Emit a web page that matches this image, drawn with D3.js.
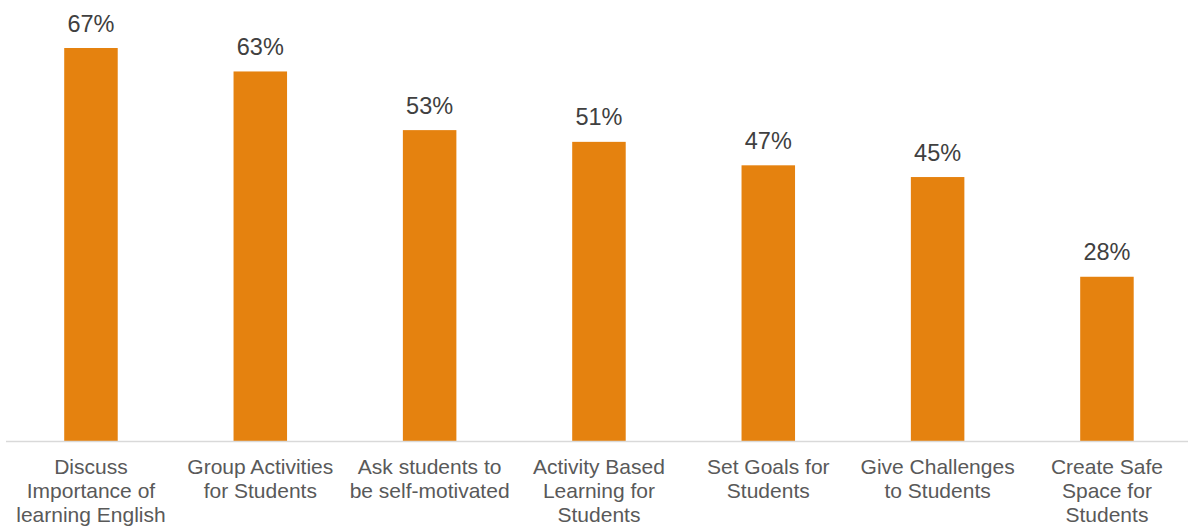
<!DOCTYPE html>
<html>
<head>
<meta charset="utf-8">
<script src="https://cdn.jsdelivr.net/npm/d3@7"></script>
<style>
  html, body { margin: 0; padding: 0; background: #fff; }
  svg { display: block; }
</style>
</head>
<body>
<svg id="chart" width="1188" height="526"></svg>
<script>
// Strategy labels, each split into the lines shown under the axis
const categories = [
  ["Discuss", "Importance of", "learning English"],
  ["Group Activities", "for Students"],
  ["Ask students to", "be self-motivated"],
  ["Activity Based", "Learning for", "Students"],
  ["Set Goals for", "Students"],
  ["Give Challenges", "to Students"],
  ["Create Safe", "Space for", "Students"]
];
// Share of respondents (%)
const values = [67, 63, 53, 51, 47, 45, 28];

const svg = d3.select("#chart");
const width = 1188;
const baseY = 441;
const font = "Arial, 'Liberation Sans', sans-serif";

const x = d3.scaleBand()
  .domain(d3.range(categories.length))
  .range([6.3, 6.3 + 169.33 * categories.length])
  .paddingInner(0.684)
  .paddingOuter(0.342);

const y = d3.scaleLinear()
  .domain([0, 67])
  .range([baseY, 48]);

// bars
svg.append("g")
  .selectAll("rect")
  .data(values)
  .join("rect")
  .attr("x", (d, i) => x(i))
  .attr("y", d => y(d))
  .attr("width", x.bandwidth())
  .attr("height", d => baseY - y(d))
  .attr("fill", "#E5820F");

// baseline axis
svg.append("line")
  .attr("x1", 6)
  .attr("x2", width)
  .attr("y1", baseY + 0.5)
  .attr("y2", baseY + 0.5)
  .attr("stroke", "#d9d9d9")
  .attr("stroke-width", 1.5);

// value labels
svg.append("g")
  .selectAll("text")
  .data(values)
  .join("text")
  .attr("x", (d, i) => x(i) + x.bandwidth() / 2)
  .attr("y", d => y(d) - 16.5)
  .attr("text-anchor", "middle")
  .attr("font-family", font)
  .attr("font-size", 23.5)
  .attr("fill", "#404040")
  .text(d => d + "%");

// category labels
const labels = svg.append("g")
  .selectAll("text")
  .data(categories)
  .join("text")
  .attr("x", (d, i) => x(i) + x.bandwidth() / 2)
  .attr("y", baseY + 33.3)
  .attr("text-anchor", "middle")
  .attr("font-family", font)
  .attr("font-size", 21)
  .attr("fill", "#595959");

labels.selectAll("tspan")
  .data(d => d)
  .join("tspan")
  .attr("x", function() { return d3.select(this.parentNode).attr("x"); })
  .attr("dy", (d, i) => i === 0 ? 0 : 23.8)
  .text(d => d);
</script>
</body>
</html>
